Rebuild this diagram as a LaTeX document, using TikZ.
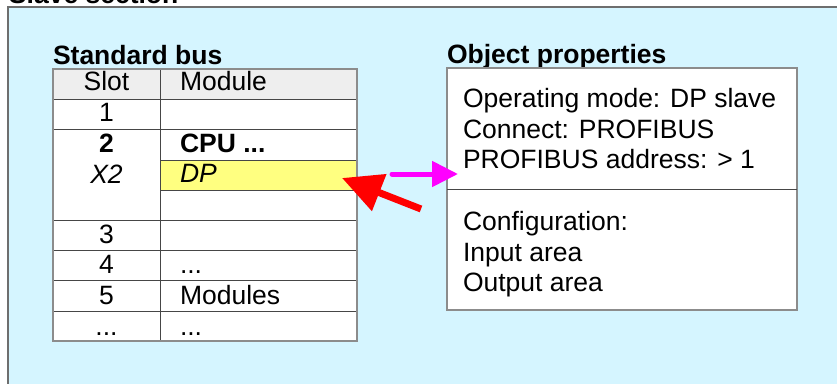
\documentclass[tikz,border=0pt]{standalone}
\usepackage{fontspec}
\setmainfont{Liberation Sans}
\usetikzlibrary{arrows.meta}
\definecolor{panelblue}{RGB}{213,245,255}
\definecolor{panelborder}{RGB}{110,110,110}
\definecolor{headgray}{RGB}{238,238,238}
\definecolor{gridgray}{RGB}{140,140,140}
\definecolor{innerline}{RGB}{70,70,70}
\definecolor{dpyellow}{RGB}{255,255,128}
\definecolor{arrowmagenta}{RGB}{255,0,255}
\definecolor{arrowred}{RGB}{255,0,0}
\tikzset{
  txt/.style={inner sep=0pt, outer sep=0pt, font=\fontsize{26.5pt}{30pt}\selectfont},
  lt/.style={txt, anchor=base west},
  ct/.style={txt, anchor=base},
  title/.style={txt, anchor=base west, font=\fontsize{26.5pt}{30pt}\selectfont\bfseries},
  outerline/.style={draw=gridgray, line width=1.2pt},
  gridline/.style={draw=innerline, line width=0.8pt},
}
\begin{document}
\begin{tikzpicture}[x=1pt,y=-1pt]
\useasboundingbox (0,0) rectangle (837,383);
\clip (0,0) rectangle (837,383);
% panel
\fill[white] (0,0) rectangle (837,383);
\node[title] (slavesec) at (9,3.5) {Slave section};
\draw[fill=panelblue, draw=panelborder, line width=1.5pt] (8,7) rectangle (860,400);
% standard bus table
\node[title] (stdbus) at (53,64) {Standard bus};
\fill[headgray] (53,69) rectangle (357,99);
\fill[white] (53,99) rectangle (357,341);
\node[draw=innerline, line width=0.8pt, fill=dpyellow, minimum width=197pt, minimum height=30pt, inner sep=0pt, outer sep=0pt, anchor=north west] (dp) at (160,160) {};
\foreach \yy in {99,129,220,250,280,311} \draw[gridline] (53,\yy) -- (357,\yy);
\foreach \yy in {160,190} \draw[gridline] (160,\yy) -- (357,\yy);
\draw[gridline] (160,69) -- (160,341);
\draw[outerline] (53,69) rectangle (357,341);
% table text
\node[ct] (hslot) at (106.5,90) {Slot};
\node[lt] (hmod) at (180,90) {Module};
\node[ct] (s1) at (106.5,121) {1};
\node[ct, font=\fontsize{26.5pt}{30pt}\selectfont\bfseries] (s2) at (106.5,152) {2};
\node[lt, font=\fontsize{26.5pt}{30pt}\selectfont\bfseries] (cpu) at (180,152) {CPU ...};
\node[ct, font=\fontsize{26.5pt}{30pt}\selectfont\itshape] (x2) at (106.5,183) {X2};
\node[lt, font=\fontsize{26.5pt}{30pt}\selectfont\itshape] (dptext) at (180,182) {DP};
\node[ct] (s3) at (106.5,243.5) {3};
\node[ct] (s4) at (106.5,273.5) {4};
\node[lt] (m4) at (180,273.5) {...};
\node[ct] (s5) at (106.5,304.5) {5};
\node[lt] (m5) at (180,304.5) {Modules};
\node[ct] (s6) at (106.5,335.5) {...};
\node[lt] (m6) at (180,335.5) {...};
% object properties
\node[title] (objprop) at (447,63) {Object properties};
\node[draw=gridgray, line width=1.2pt, fill=white, minimum width=350pt, minimum height=242pt, inner sep=0pt, outer sep=0pt, anchor=north west] (props) at (447,68) {};
\draw[gridline] (props.west |- 0,189) -- (props.east |- 0,189);
\node[lt] (p1) at (463,107.5) {Operating mode: DP slave};
\node[lt] (p2) at (463,138) {Connect: PROFIBUS};
\node[lt] (p3) at (463,168) {PROFIBUS address: > 1};
\node[lt] (p4) at (463,230) {Configuration:};
\node[lt] (p5) at (463,261) {Input area};
\node[lt] (p6) at (463,291) {Output area};
% arrows
\coordinate (mtail) at (392,174);
\coordinate (mtip) at ([xshift=11pt]props.west |- mtail);
\draw[draw=arrowmagenta, line width=5pt, line cap=round, -{Triangle[length=26pt,width=25pt]}] (mtail) -- (mtip);
\coordinate (rtail) at (421,209);
\coordinate (rtip) at ([xshift=-15pt,yshift=-3pt]dp.east);
\draw[draw=arrowred, line width=7pt, -{Triangle[length=40pt,width=38pt]}] (rtail) -- (rtip);
\end{tikzpicture}
\end{document}
